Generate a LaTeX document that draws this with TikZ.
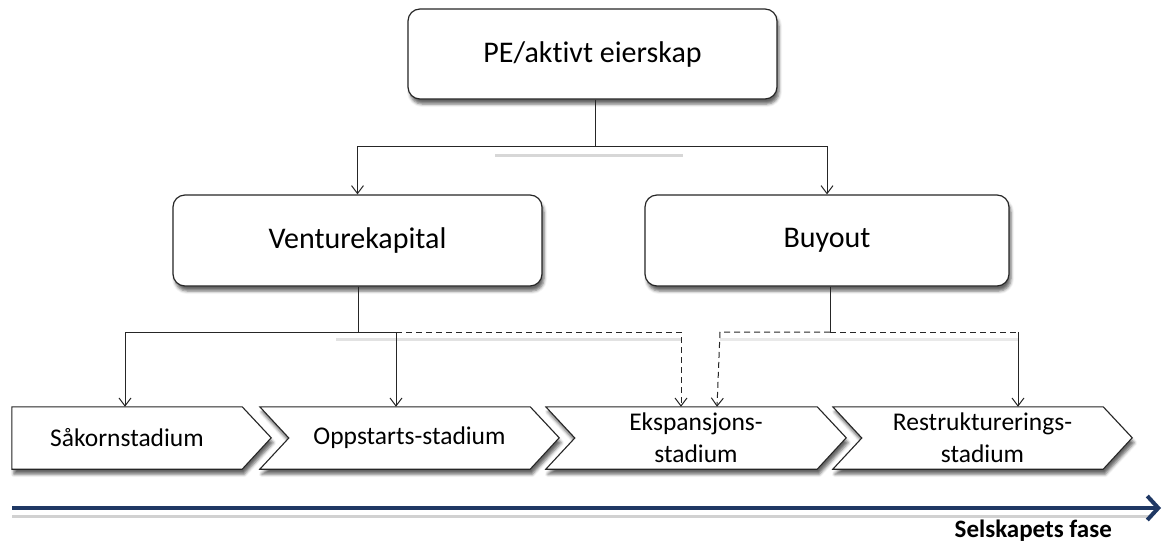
\documentclass[tikz,border=0pt]{standalone}
\usepackage{fontspec}
\setmainfont[Ligatures=NoCommon]{Carlito}
\usetikzlibrary{arrows.meta,shadows.blur,calc}
\pgfdeclarelayer{bg}
\pgfsetlayers{bg,main}
\definecolor{navy}{RGB}{31,56,100}
\begin{document}
\begin{tikzpicture}[x=1pt,y=-1pt,
  sh/.style={blur shadow={shadow xshift=2pt,shadow yshift=-5pt,shadow blur radius=3pt,shadow opacity=60}},
  box/.style={draw=black!85,line width=1.2pt,rounded corners=12pt,fill=white,sh,
    inner sep=0pt,font=\fontsize{30}{36}\selectfont},
  stage/.style={inner sep=0pt,minimum height=62pt,align=center,font=\fontsize{25.5}{32}\selectfont},
  chev/.style={draw=black!85,line width=1.1pt,fill=white,sh},
  conn/.style={draw=black!85,line width=1pt},
  arr/.style={conn,-{Straight Barb[length=8pt,width=12pt]}},
  dashy/.style={dash pattern=on 6pt off 4pt},
  lshadow/.style={draw=black!25,line width=3pt,opacity=0.45},
  timeline/.style={draw=navy,line width=4pt,-{Straight Barb[length=11pt,width=24pt]}}
]
\useasboundingbox (0,0) rectangle (1164,544);

% boxes
\node[box,minimum width=369pt,minimum height=90pt] (top) at (592.5,54) {PE/aktivt eierskap};
\node[box,minimum width=369pt,minimum height=91pt] (vc) at (357.5,240.5) {Venturekapital};
\node[box,minimum width=364pt,minimum height=91pt] (bo) at (827,240.5) {Buyout};

% stages (text area between notch and body end)
\node[stage,minimum width=230pt] (s1) at (127,438) {Såkornstadium};
\node[stage,minimum width=241pt] (s2) at (409.5,438) {Oppstarts-stadium};
\node[stage,minimum width=242pt] (s3) at (696,438) {Ekspansjons-\\stadium};
\node[stage,minimum width=241pt] (s4) at (982.5,438) {Restrukturerings-\\stadium};

\begin{pgfonlayer}{bg}
  \path[chev] (s1.north west) -- (s1.north east) -- ++(29,31) -- (s1.south east) -- (s1.south west) -- cycle;
  \foreach \s in {s2,s3,s4}{
    \path[chev] ($(\s.north west)+(-29,0)$) -- (\s.north east) -- ++(29,31) -- (\s.south east)
      -- ($(\s.south west)+(-29,0)$) -- (\s.west) -- cycle;
  }
\end{pgfonlayer}

% connector shadows
\begin{pgfonlayer}{bg}
  \coordinate (j1) at (595,146);
  \coordinate (j2) at (358,332);
  \coordinate (j3) at (830,332);
  \coordinate (k1) at (125,332);
  \coordinate (k2) at (396,332);
  \coordinate (k3) at (681,332);
  \coordinate (k4) at (720,332);
  \coordinate (k5) at (1018,332);
  \draw[lshadow,draw=black!35] ($(j1)+(-100,9)$) -- ($(j1)+(88,9)$);
  \draw[lshadow] ($(k2)+(-60,7)$) -- ($(k3)+(0,7)$);
  \draw[lshadow,opacity=0.35] ($(k4)+(0,7)$) -- ($(k5)+(0,7)$);
\end{pgfonlayer}

% connectors
\draw[conn] (top.south -| j1) -- (j1);
\draw[arr] (j1) -| (vc.north);
\draw[arr] (j1) -| (bo.north);

\draw[conn] (vc.south -| j2) -- (j2);
\draw[arr] (j2) -- (k1) -- (k1 |- s1.north);
\draw[arr] (j2) -- (k2) -- (k2 |- s2.north);
\draw[arr,dashy] (k2) -- (k3) -- (k3 |- s3.north);

\draw[conn] (bo.south -| j3) -- (j3);
\draw[arr,dashy] (j3) -- (k4) -- ($(k4 |- s3.north)+(-3,0)$);
\draw[conn,dashy] (j3) -- (k5);
\draw[arr] (k5) -- (k5 |- s4.north);

% timeline
\coordinate (t0) at (12,508);
\coordinate (t1) at (1161,508);
\draw[draw=black!30,line width=3pt,opacity=0.6] ($(t0)+(0,8)$) -- ($(t1)+(-10,8)$);
\draw[timeline] (t0) -- (t1);
\node[anchor=base east,inner sep=0pt,font=\bfseries\fontsize{25}{30}\selectfont] (lab) at (1112,537) {Selskapets fase};
\end{tikzpicture}
\end{document}
